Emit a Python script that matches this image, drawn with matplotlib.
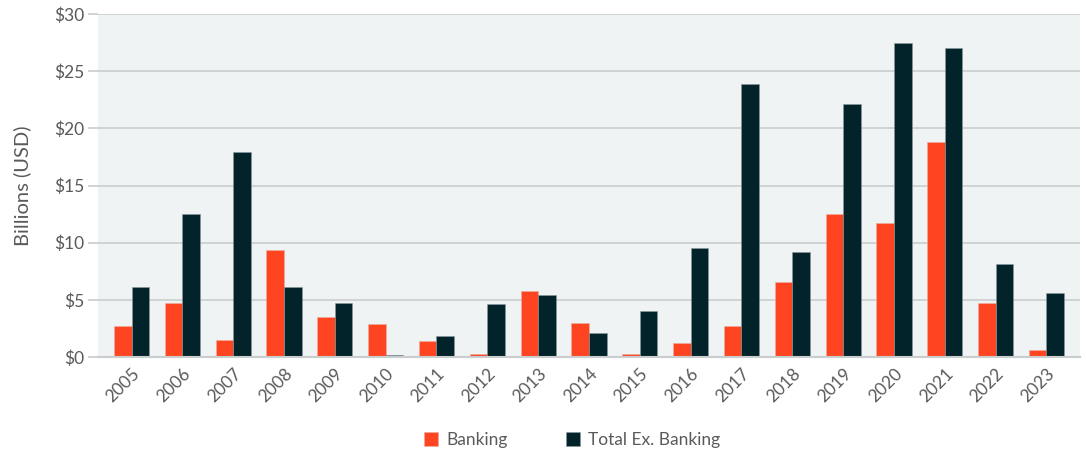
import numpy as np
import matplotlib.pyplot as plt
from matplotlib.ticker import FuncFormatter

plt.rcParams["font.family"] = ["Lato", "DejaVu Sans"]

years = [str(y) for y in range(2005, 2024)]
banking = [2.7, 4.7, 1.5, 9.4, 3.5, 2.9, 1.4, 0.3, 5.8, 3.0, 0.3, 1.2, 2.7, 6.6, 12.5, 11.7, 18.8, 4.7, 0.6]
total_ex_banking = [6.1, 12.5, 17.9, 6.1, 4.7, 0.2, 1.8, 4.6, 5.4, 2.1, 4.0, 9.5, 23.9, 9.2, 22.1, 27.5, 27.0, 8.1, 5.6]

orange = "#FF4422"
dark = "#02232A"
grid_c = "#C9CDCE"
text_c = "#5A5A5A"

fig = plt.figure(figsize=(10.86, 4.55), dpi=100)
ax = fig.add_axes([0.0902, 0.2154, 0.9043, 0.7538])
ax.set_facecolor("#EFF3F4")

x = np.arange(len(years))
w = 0.345
ax.bar(x - w / 2, banking, w, color=orange, edgecolor="#E8B0A0", linewidth=0.4, label="Banking", zorder=3)
ax.bar(x + w / 2, total_ex_banking, w, color=dark, edgecolor="#8A9A9C", linewidth=0.4, label="Total Ex. Banking", zorder=3)

ax.set_xlim(-0.66, 18.66)
ax.set_ylim(0, 30)
ax.set_yticks(range(0, 31, 5))
ax.yaxis.set_major_formatter(FuncFormatter(lambda v, p: "$%d" % v))
ax.grid(axis="y", color=grid_c, linewidth=1.2, zorder=0)
for s in ["top", "right", "left"]:
    ax.spines[s].set_visible(False)
ax.spines["bottom"].set_color(grid_c)
ax.spines["bottom"].set_linewidth(1.5)
ax.spines["bottom"].set_zorder(4)

ax.tick_params(axis="y", length=7, width=1.2, color=grid_c, pad=3, labelsize=12.5, labelcolor=text_c)
ax.tick_params(axis="x", length=0, pad=6, labelsize=12.5, labelcolor=text_c)
ax.set_xticks(x)
ax.set_xticklabels(years, rotation=45, ha="right", rotation_mode="anchor")

ax.set_ylabel("Billions (USD)", fontsize=14.5, color=text_c, labelpad=16)

fig.legend(loc="center", bbox_to_anchor=(0.527, 0.033), ncol=2, frameon=False,
           fontsize=12.5, handlelength=0.8, handleheight=0.8, columnspacing=3.4,
           labelcolor=text_c, handletextpad=0.45)

fig.savefig("out.png", dpi=100)
